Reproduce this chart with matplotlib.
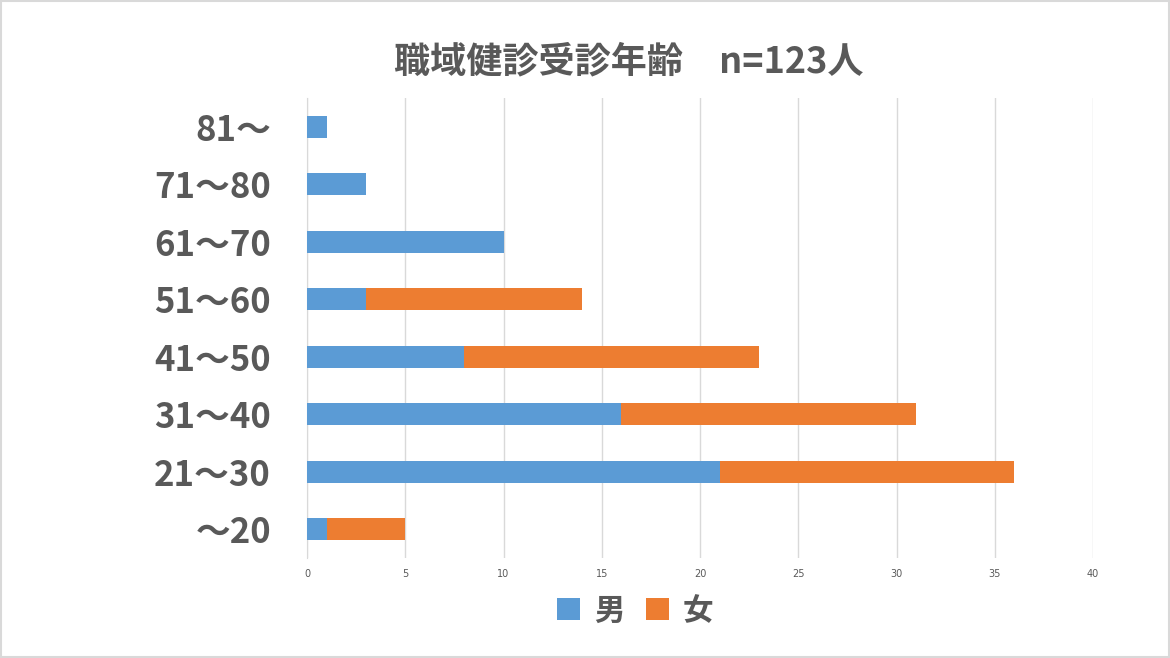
import matplotlib
matplotlib.use('Agg')
import matplotlib.pyplot as plt
from matplotlib.patches import Rectangle

plt.rcParams['font.family'] = ['Noto Sans CJK JP', 'DejaVu Sans']

ages = ['～20', '21～30', '31～40', '41～50', '51～60', '61～70', '71～80', '81～']
male = [1, 21, 16, 8, 3, 10, 3, 1]
female = [4, 15, 15, 15, 11, 0, 0, 0]
xticks = [0, 5, 10, 15, 20, 25, 30, 35, 40]

blue = '#5B9BD5'
orange = '#ED7D31'
gray = '#595959'

fig = plt.figure(figsize=(11.7, 6.58), dpi=100)
fig.patches.append(Rectangle((0.001, 0.001), 0.998, 0.997, transform=fig.transFigure,
                             fill=False, edgecolor='#D9D9D9', linewidth=1.5))
ax = fig.add_axes([0.2624, 0.152, 0.6718, 0.699])

pos = range(len(ages))
ax.barh(pos, male, height=0.38, color=blue, label='男', zorder=3)
ax.barh(pos, female, left=male, height=0.38, color=orange, label='女', zorder=3)

ax.set_xlim(0, 40)
ax.set_ylim(-0.5, len(ages) - 0.5)
ax.set_xticks(xticks)
ax.set_xticklabels([str(t) for t in xticks], fontsize=7, color=gray, family='DejaVu Sans')
ax.set_yticks(list(pos))
ax.set_yticklabels(ages, fontsize=25, color=gray, fontweight='bold')
ax.tick_params(axis='both', length=0)
ax.tick_params(axis='x', pad=8)
ax.tick_params(axis='y', pad=26)
ax.grid(axis='x', color='#D9D9D9', linewidth=1, zorder=0)
for s in ['top', 'right', 'bottom']:
    ax.spines[s].set_visible(False)
ax.spines['left'].set_color('#D9D9D9')

fig.text(0.537, 0.906, '職域健診受診年齢\u3000n=123人', ha='center', va='center',
         fontsize=26, fontweight='bold', color=gray)

leg = fig.legend(loc='center', bbox_to_anchor=(0.543, 0.072), ncol=2, frameon=False,
                 prop={'size': 22, 'weight': 'bold'}, handlelength=0.75, handleheight=0.75,
                 handletextpad=0.45, columnspacing=0.7)
for t in leg.get_texts():
    t.set_color(gray)

fig.savefig('out.png', dpi=100)
